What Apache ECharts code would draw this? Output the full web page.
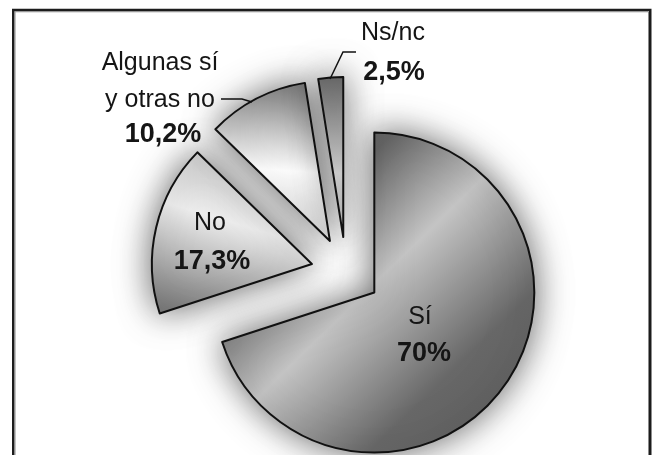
<!DOCTYPE html>
<html>
<head>
<meta charset="utf-8">
<script src="https://cdn.jsdelivr.net/npm/echarts@6/dist/echarts.min.js"></script>
<style>
  html, body { margin: 0; padding: 0; background: #ffffff; }
  #chart { width: 659px; height: 455px; }
</style>
</head>
<body>
<div id="chart"></div>
<script>
// ---- data ----
var categories = ['Sí', 'No', 'Algunas sí\ny otras no', 'Ns/nc'];
var values = [70, 17.3, 10.2, 2.5];
var valueLabels = ['70%', '17,3%', '10,2%', '2,5%'];

// ---- styles / placement ----
var fills = [
  { type: 'linear', x: 0, y: 0, x2: 1, y2: 1, colorStops: [
    { offset: 0, color: '#555555' }, { offset: 0.27, color: '#666666' },
    { offset: 0.48, color: '#c4c4c4' }, { offset: 0.74, color: '#686868' },
    { offset: 1, color: '#5a5a5a' } ] },
  { type: 'linear', x: 0.5, y: 0, x2: 0.2, y2: 1, colorStops: [
    { offset: 0, color: '#c8c8c8' }, { offset: 0.4, color: '#ededed' },
    { offset: 1, color: '#7a7a7a' } ] },
  { type: 'linear', x: 0.6, y: 0, x2: 0.5, y2: 1, colorStops: [
    { offset: 0, color: '#7c7c7c' }, { offset: 0.55, color: '#ffffff' },
    { offset: 1, color: '#d6d6d6' } ] },
  { type: 'linear', x: 0, y: 0, x2: 0, y2: 1, colorStops: [
    { offset: 0, color: '#6a6a6a' }, { offset: 0.6, color: '#d4d4d4' },
    { offset: 1, color: '#b0b0b0' } ] }
];
// centre of each text line of every label: name lines..., value line
var labelLinePos = [
  [[420, 317], [424, 354]],
  [[210, 223], [212, 262]],
  [[160, 63], [160, 100], [163, 135]],
  [[393, 33], [394, 73]]
];
var leaderLines = [null, null,
  [[252, 102], [242, 99], [221, 99]],
  [[330, 79], [343, 52], [356, 52]]];

var FONT = 'Liberation Sans, Arial, sans-serif';
var graphics = [
  { type: 'rect', silent: true, z: 100,
    shape: { x: 13.25, y: 10, width: 637, height: 520 },
    style: { fill: null, stroke: '#1c1c1c', lineWidth: 2.5 } },
  { type: 'rect', silent: true, z: 100,
    shape: { x: 15, y: 11.75, width: 633.5, height: 520 },
    style: { fill: null, stroke: '#8a8a8a', lineWidth: 1 } }
];
categories.forEach(function (c, i) {
  var lines = c.split('\n');
  var pos = labelLinePos[i];
  lines.forEach(function (s, k) {
    graphics.push({ type: 'text', silent: true, z: 50, x: pos[k][0], y: pos[k][1],
      style: { text: s, font: 'normal 25px ' + FONT, fill: '#151515',
               align: 'center', verticalAlign: 'middle' } });
  });
  var pv = pos[lines.length];
  graphics.push({ type: 'text', silent: true, z: 50, x: pv[0], y: pv[1],
    style: { text: valueLabels[i], font: 'bold 27px ' + FONT, fill: '#151515',
             align: 'center', verticalAlign: 'middle' } });
  if (leaderLines[i]) {
    graphics.push({ type: 'polyline', silent: true, z: 50,
      shape: { points: leaderLines[i] },
      style: { stroke: '#111111', lineWidth: 1.5, fill: null } });
  }
});

var data = categories.map(function (c, i) {
  return { name: c, value: values[i], selected: true, itemStyle: { color: fills[i] } };
});

var chart = echarts.init(document.getElementById('chart'), null, { renderer: 'canvas' });
chart.setOption({
  animation: false,
  backgroundColor: '#ffffff',
  graphic: graphics,
  series: [{
    type: 'pie',
    center: [346, 272],
    radius: 160,
    startAngle: 90,
    clockwise: true,
    selectedMode: 'multiple',
    selectedOffset: 35,
    avoidLabelOverlap: false,
    emphasis: { disabled: true },
    itemStyle: {
      borderColor: '#111111',
      borderWidth: 2,
      shadowBlur: 35,
      shadowColor: 'rgba(0,0,0,0.6)'
    },
    label: { show: false },
    labelLine: { show: false },
    data: data
  }]
});
</script>
</body>
</html>
